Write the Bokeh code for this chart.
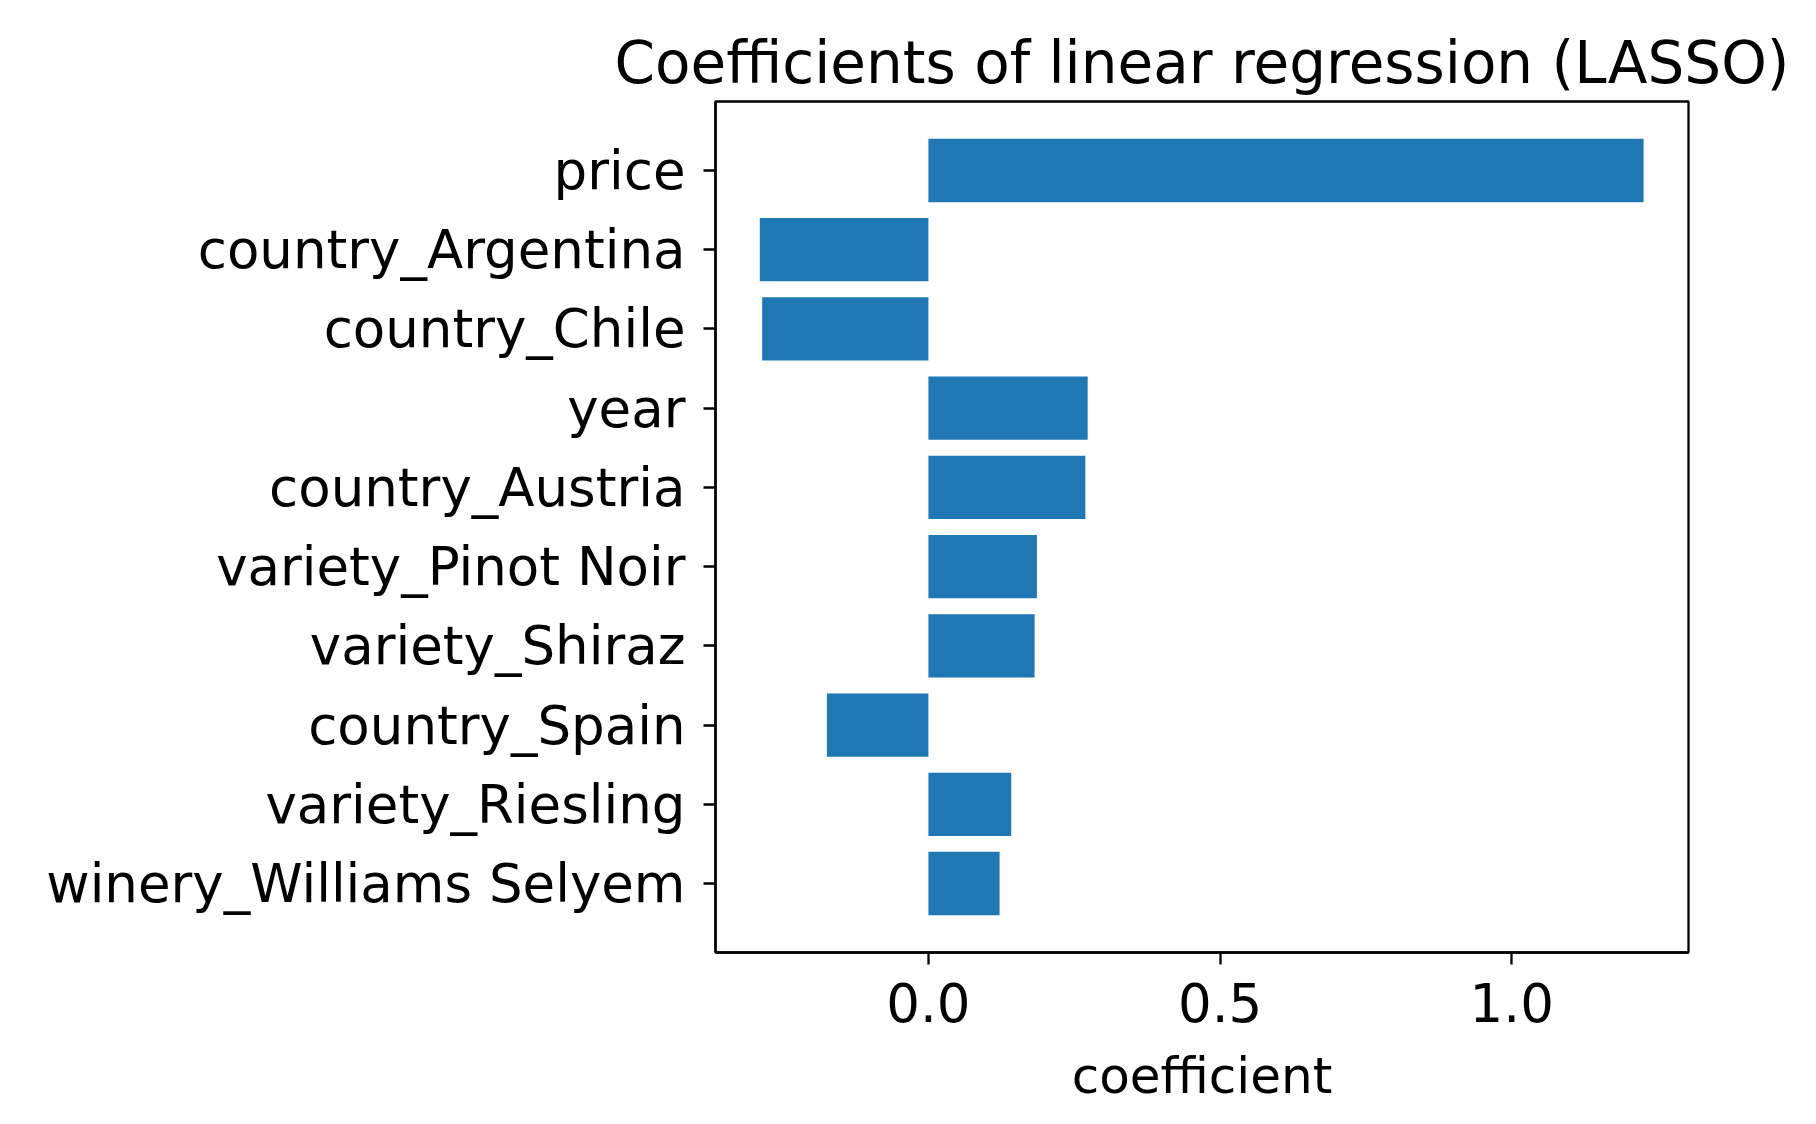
from bokeh.plotting import figure
from bokeh.models import Range1d, FixedTicker
from bokeh.embed import file_html
from bokeh.resources import INLINE

# features, top to bottom, and their lasso coefficients
features = ["price", "country_Argentina", "country_Chile", "year", "country_Austria",
            "variety_Pinot Noir", "variety_Shiraz", "country_Spain", "variety_Riesling",
            "winery_Williams Selyem"]
coefs = [1.226, -0.289, -0.285, 0.273, 0.269, 0.186, 0.182, -0.174, 0.142, 0.122]
x_ticks = [0.0, 0.5, 1.0]

pos = list(range(len(features)))

p = figure(width=1800, height=1108, output_backend="svg", toolbar_location=None,
           x_range=Range1d(-0.365, 1.303), y_range=Range1d(9.87, -0.87),
           title="Coefficients of linear regression (LASSO)",
           min_border_left=715, min_border_right=112, min_border_top=101, min_border_bottom=156)

p.hbar(y=pos, right=coefs, left=0, height=0.8, color="#1f77b4", line_color=None)

p.title.text_font = "DejaVu Sans"
p.title.text_font_size = "58px"
p.title.text_font_style = "normal"
p.title.text_color = "black"
p.title.align = "center"

p.xgrid.visible = False
p.ygrid.visible = False
p.outline_line_color = "black"
p.outline_line_width = 2.3

p.xaxis.ticker = FixedTicker(ticks=x_ticks)
p.xaxis.major_label_overrides = {0.0: "0.0", 0.5: "0.5", 1.0: "1.0"}
p.yaxis.ticker = FixedTicker(ticks=pos)
p.yaxis.major_label_overrides = {i: f for i, f in enumerate(features)}
p.xaxis.axis_label = "coefficient"

for ax in (p.xaxis, p.yaxis):
    ax.axis_line_color = "black"
    ax.axis_line_width = 2.3
    ax.major_tick_line_width = 2.3
    ax.major_tick_out = 12
    ax.major_tick_in = 0
    ax.minor_tick_line_color = None
    ax.major_label_text_font = "DejaVu Sans"
    ax.major_label_text_font_size = "53px"
    ax.major_label_text_color = "black"
p.yaxis.major_label_standoff = 18
p.xaxis.major_label_standoff = 18
p.xaxis.axis_label_text_font = "DejaVu Sans"
p.xaxis.axis_label_text_font_size = "50px"
p.xaxis.axis_label_text_font_style = "normal"
p.xaxis.axis_label_text_color = "black"
p.xaxis.axis_label_standoff = 22

open("out.html", "w").write(file_html(p, INLINE))
